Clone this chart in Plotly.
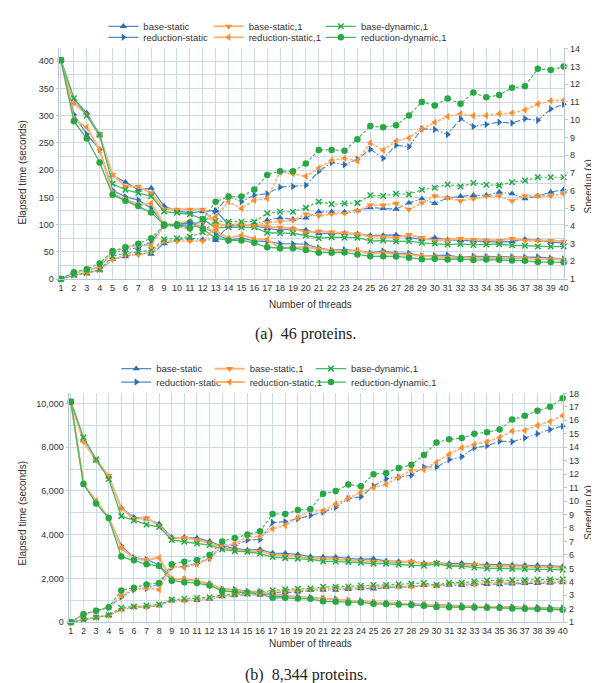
import plotly.graph_objects as go

threads = list(range(1, 41))

# ---------------- Panel (a): 46 proteins ----------------
a_bs_time = [402, 330, 305, 265, 190, 178, 164, 167, 134, 125, 122, 124, 126, 100, 99, 98, 93, 90, 92, 90,
             84, 84, 84, 83, 80, 80, 81, 76, 73, 76, 72, 71, 70, 70, 68, 69, 73, 71, 68, 66.5]
a_bs_speed = [1.0, 1.22, 1.32, 1.52, 2.12, 2.26, 2.45, 2.41, 3.0, 3.22, 3.3, 3.24, 3.19, 4.02, 4.06, 4.1, 4.32, 4.46, 4.37, 4.46,
              4.8, 4.8, 4.78, 4.86, 5.04, 4.99, 4.95, 5.3, 5.54, 5.27, 5.58, 5.67, 5.73, 5.73, 5.91, 5.82, 5.54, 5.69, 5.91, 6.04]
a_bs1_time = [402, 323, 302, 263, 192, 170, 170, 158, 128, 128, 128, 128, 102, 98, 98, 100, 96, 95, 93, 86,
              88, 86, 85, 83, 78, 78, 76, 81.5, 76, 70.6, 72, 74.3, 72.5, 71, 70.6, 74.3, 70.6, 70.6, 70.6, 69]
a_bs1_speed = [1.0, 1.24, 1.33, 1.53, 2.09, 2.36, 2.36, 2.54, 3.14, 3.14, 3.14, 3.14, 3.94, 4.1, 4.1, 4.02, 4.19, 4.23, 4.32, 4.67,
               4.56, 4.67, 4.71, 4.86, 5.17, 5.17, 5.27, 4.93, 5.3, 5.69, 5.58, 5.41, 5.54, 5.67, 5.69, 5.41, 5.69, 5.69, 5.69, 5.82]
a_bd_time = [402, 332, 300, 265, 175, 164, 158, 152, 124, 122, 119, 110, 94, 95, 95, 95, 85, 84, 84, 80,
             75, 77, 76, 76, 70, 70.7, 69, 69.5, 66.6, 65.3, 63.4, 64.5, 62.6, 63.6, 63.9, 62.1, 61.3, 59.6, 59.6, 59.6]
a_bd_speed = [1.0, 1.21, 1.34, 1.52, 2.3, 2.45, 2.54, 2.64, 3.24, 3.3, 3.38, 3.65, 4.28, 4.24, 4.24, 4.24, 4.71, 4.8, 4.8, 5.02,
              5.36, 5.23, 5.27, 5.3, 5.73, 5.69, 5.82, 5.78, 6.04, 6.16, 6.34, 6.23, 6.42, 6.32, 6.29, 6.47, 6.56, 6.75, 6.75, 6.75]
a_rs_time = [402, 302, 266, 238, 163, 151, 145, 130, 100, 98, 97, 96, 83, 71, 75, 70, 69, 65, 64.5, 64,
             57, 53, 54, 52, 48, 51.5, 47, 47.5, 42.4, 42.6, 44, 40, 41.8, 41.4, 40.8, 41, 40, 40.4, 38, 37]
a_rs_speed = [1.0, 1.33, 1.51, 1.69, 2.47, 2.66, 2.77, 3.09, 4.02, 4.1, 4.14, 4.19, 4.84, 5.66, 5.36, 5.74, 5.82, 6.19, 6.23, 6.29,
              7.08, 7.58, 7.45, 7.77, 8.33, 7.82, 8.55, 8.47, 9.49, 9.44, 9.16, 10.05, 9.62, 9.72, 9.86, 9.81, 10.05, 9.96, 10.6, 10.87]
a_rs1_time = [402, 293, 279, 237, 157, 146, 137, 139, 100, 101, 106, 94, 89, 75, 80.5, 74, 72.5, 57, 58, 59,
              55, 52, 51.4, 52.3, 46.2, 48.6, 45.7, 44.8, 42.4, 40.8, 39.5, 38.9, 39.3, 39.3, 38.9, 38.8, 38.1, 37, 36.3, 36.2]
a_rs1_speed = [1.0, 1.37, 1.44, 1.7, 2.56, 2.75, 2.93, 2.89, 4.02, 3.98, 3.79, 4.28, 4.52, 5.36, 4.99, 5.45, 5.55, 7.05, 6.95, 6.8,
               7.27, 7.71, 7.82, 7.68, 8.7, 8.27, 8.79, 8.97, 9.49, 9.85, 10.18, 10.33, 10.22, 10.24, 10.33, 10.37, 10.55, 10.88, 11.07, 11.1]
a_rd_time = [402, 290, 258, 214, 155, 144, 134, 122, 100, 100, 104, 92, 75, 71, 71, 66.5, 58.4, 56.7, 56.7, 53.5,
             48.5, 48.5, 48.7, 45.2, 41.7, 42, 41.5, 39.3, 36.5, 37.2, 35.9, 36.9, 34.9, 35.7, 35.3, 34.1, 33.8, 31.2, 31.4, 30.9]
a_rd_speed = [1.0, 1.39, 1.56, 1.88, 2.59, 2.79, 3.0, 3.3, 4.02, 4.02, 3.87, 4.37, 5.36, 5.66, 5.66, 6.05, 6.88, 7.09, 7.09, 7.52,
              8.29, 8.29, 8.25, 8.9, 9.64, 9.57, 9.68, 10.24, 11.0, 10.8, 11.2, 10.9, 11.53, 11.26, 11.39, 11.8, 11.89, 12.87, 12.81, 13.0]

# ---------------- Panel (b): 8,344 proteins ----------------
b_bs_time = [10080, 8300, 7380, 6650, 5230, 4800, 4720, 4500, 3880, 3880, 3850, 3700, 3480, 3380, 3300, 3330, 3160, 3150, 3100, 3000,
             2980, 2980, 2920, 2880, 2900, 2800, 2780, 2770, 2700, 2720, 2680, 2700, 2650, 2640, 2660, 2620, 2600, 2600, 2580, 2550]
b_bs_speed = [1.0, 1.21, 1.37, 1.52, 1.93, 2.1, 2.14, 2.24, 2.6, 2.6, 2.62, 2.72, 2.9, 2.98, 3.05, 3.03, 3.19, 3.2, 3.25, 3.36,
              3.38, 3.38, 3.45, 3.5, 3.48, 3.6, 3.63, 3.64, 3.73, 3.71, 3.76, 3.73, 3.8, 3.82, 3.79, 3.85, 3.88, 3.88, 3.91, 3.95]
b_bs1_time = [10080, 8250, 7420, 6700, 5200, 4720, 4770, 4420, 3820, 3870, 3770, 3620, 3420, 3300, 3250, 3250, 3080, 3050, 3000, 2920,
              2900, 2880, 2850, 2800, 2780, 2760, 2740, 2780, 2680, 2720, 2620, 2620, 2640, 2560, 2560, 2560, 2540, 2520, 2520, 2480]
b_bs1_speed = [1.0, 1.22, 1.36, 1.5, 1.94, 2.14, 2.11, 2.28, 2.64, 2.6, 2.67, 2.78, 2.95, 3.05, 3.1, 3.1, 3.27, 3.3, 3.36, 3.45,
               3.48, 3.5, 3.54, 3.6, 3.63, 3.65, 3.68, 3.63, 3.76, 3.71, 3.85, 3.85, 3.82, 3.94, 3.94, 3.94, 3.97, 4.0, 4.0, 4.06]
b_bd_time = [10080, 8450, 7450, 6550, 4850, 4650, 4470, 4350, 3760, 3680, 3600, 3530, 3330, 3250, 3220, 3140, 2980, 2930, 2900, 2880,
             2780, 2780, 2760, 2720, 2680, 2680, 2640, 2620, 2580, 2680, 2560, 2560, 2500, 2460, 2460, 2440, 2440, 2420, 2420, 2400]
b_bd_speed = [1.0, 1.19, 1.35, 1.54, 2.08, 2.17, 2.25, 2.32, 2.68, 2.74, 2.8, 2.86, 3.03, 3.1, 3.13, 3.21, 3.38, 3.44, 3.48, 3.5,
              3.63, 3.63, 3.65, 3.71, 3.76, 3.76, 3.82, 3.85, 3.91, 3.76, 3.94, 3.94, 4.03, 4.1, 4.1, 4.13, 4.13, 4.17, 4.17, 4.2]
b_rs_time = [10080, 6350, 5480, 4780, 3500, 2950, 2870, 2620, 1980, 1950, 1880, 1750, 1520, 1500, 1420, 1410, 1200, 1190, 1160, 1130,
             1100, 1057, 989, 977, 906, 865, 856, 846, 804, 804, 772, 758, 722, 715, 698, 700, 687, 672, 658, 648]
b_rs_speed = [1.0, 1.59, 1.84, 2.11, 2.88, 3.42, 3.51, 3.85, 5.09, 5.17, 5.36, 5.76, 6.63, 6.72, 7.1, 7.15, 8.4, 8.47, 8.69, 8.92,
              9.17, 9.54, 10.19, 10.32, 11.12, 11.65, 11.77, 11.92, 12.53, 12.53, 13.06, 13.3, 13.96, 14.1, 14.45, 14.4, 14.68, 15.0, 15.32, 15.56]
b_rs1_time = [10080, 6330, 5550, 4760, 3400, 2900, 2850, 2950, 1960, 1990, 1900, 1760, 1500, 1480, 1370, 1370, 1270, 1230, 1150, 1085,
              1085, 1031, 989, 944, 916, 897, 856, 821, 818, 782, 748, 722, 709, 700, 685, 663, 661, 645, 634, 617]
b_rs1_speed = [1.0, 1.59, 1.82, 2.12, 2.96, 3.48, 3.54, 3.42, 5.14, 5.07, 5.31, 5.73, 6.72, 6.81, 7.36, 7.36, 7.94, 8.2, 8.77, 9.29,
               9.29, 9.78, 10.19, 10.68, 11.0, 11.24, 11.77, 12.28, 12.33, 12.89, 13.48, 13.96, 14.21, 14.4, 14.72, 15.2, 15.25, 15.62, 15.91, 16.35]
b_rd_time = [10080, 6320, 5430, 4760, 3000, 2830, 2650, 2570, 1900, 1830, 1790, 1680, 1440, 1390, 1340, 1300, 1115, 1115, 1080, 1071,
             955, 938, 897, 908, 840, 834, 810, 794, 751, 702, 691, 687, 672, 667, 658, 628, 617, 603, 593, 572]
b_rd_speed = [1.0, 1.6, 1.86, 2.12, 3.36, 3.56, 3.8, 3.92, 5.31, 5.5, 5.63, 6.0, 7.0, 7.26, 7.52, 7.75, 9.04, 9.04, 9.33, 9.41,
              10.55, 10.74, 11.23, 11.1, 12.0, 12.08, 12.45, 12.69, 13.42, 14.35, 14.59, 14.68, 15.0, 15.12, 15.32, 16.05, 16.34, 16.71, 17.0, 17.63]

series_names = ["base-static", "base-static,1", "base-dynamic,1",
                "reduction-static", "reduction-static,1", "reduction-dynamic,1"]

panel_a = {
    "base-static": (a_bs_time, a_bs_speed),
    "base-static,1": (a_bs1_time, a_bs1_speed),
    "base-dynamic,1": (a_bd_time, a_bd_speed),
    "reduction-static": (a_rs_time, a_rs_speed),
    "reduction-static,1": (a_rs1_time, a_rs1_speed),
    "reduction-dynamic,1": (a_rd_time, a_rd_speed),
}
panel_b = {
    "base-static": (b_bs_time, b_bs_speed),
    "base-static,1": (b_bs1_time, b_bs1_speed),
    "base-dynamic,1": (b_bd_time, b_bd_speed),
    "reduction-static": (b_rs_time, b_rs_speed),
    "reduction-static,1": (b_rs1_time, b_rs1_speed),
    "reduction-dynamic,1": (b_rd_time, b_rd_speed),
}

BLUE_M, BLUE_L = "#2d6db3", "#4f8ccc"
ORANGE_M, ORANGE_L = "#ff8c26", "#ffb47a"
GREEN_M, GREEN_L = "#27a844", "#45b862"

style = {
    "base-static": dict(sym="triangle-up", mc=BLUE_M, lc=BLUE_L, lw=1.3, dash="6px,2px,1.5px,2px", ms=6.5),
    "base-static,1": dict(sym="triangle-down", mc=ORANGE_M, lc=ORANGE_L, lw=2.0, dash="3px,1.5px", ms=6.5),
    "base-dynamic,1": dict(sym="x-thin", mc=GREEN_M, lc=GREEN_L, lw=1.3, dash="3px,2px", ms=5.5),
    "reduction-static": dict(sym="triangle-right", mc=BLUE_M, lc=BLUE_L, lw=1.3, dash="6px,2px,1.5px,2px", ms=6.5),
    "reduction-static,1": dict(sym="triangle-left", mc=ORANGE_M, lc=ORANGE_L, lw=2.0, dash="3px,1.5px", ms=6.5),
    "reduction-dynamic,1": dict(sym="circle", mc=GREEN_M, lc=GREEN_L, lw=1.3, dash="3px,2px", ms=6.5),
}

W, H = 599, 683
FONT = "Liberation Sans, Arial, sans-serif"
SERIF = "Liberation Serif, Times New Roman, serif"
GRID = "#cbd9e6"
TXT = "#333333"

fig = go.Figure()


def marker_for(s):
    st = style[s]
    if st["sym"] == "x-thin":
        return dict(symbol="x-thin", size=st["ms"], color=st["mc"], line=dict(color=st["mc"], width=1.5))
    return dict(symbol=st["sym"], size=st["ms"], color=st["mc"], line=dict(width=0))


def add_panel(data, xa, ya_l, ya_r, legend_ids):
    for s in series_names:
        st = style[s]
        t, sp = data[s]
        # speedup (right axis), dashed
        fig.add_trace(go.Scatter(
            x=threads, y=sp, xaxis=xa, yaxis=ya_r, mode="lines+markers", name=s,
            line=dict(color=st["lc"], width=st["lw"] * 0.9, dash=st["dash"]),
            marker=marker_for(s), showlegend=False, cliponaxis=False, hoverinfo="skip"))
    for i, s in enumerate(series_names):
        st = style[s]
        t, sp = data[s]
        # elapsed time (left axis), solid
        fig.add_trace(go.Scatter(
            x=threads, y=t, xaxis=xa, yaxis=ya_l, mode="lines+markers", name=s,
            line=dict(color=st["lc"], width=st["lw"]),
            marker=marker_for(s), showlegend=True, legend=legend_ids[i],
            cliponaxis=False))


ids_a = ["legend", "legend2", "legend3", "legend4", "legend5", "legend6"]
ids_b = ["legend7", "legend8", "legend9", "legend10", "legend11", "legend12"]
add_panel(panel_a, "x", "y", "y2", ids_a)
add_panel(panel_b, "x2", "y3", "y4", ids_b)


def px_x(px):
    return px / W


def px_y(py):
    return 1 - py / H


# Legend placement (pixel positions of text start, row centre)
legend_layout = {}
cols_a = [136, 242, 355]
rows_a = [13.3, 24.5]
cols_b = [149, 243, 345]
rows_b = [360.7, 374.3]
for ids, cols, rows in ((ids_a, cols_a, rows_a), (ids_b, cols_b, rows_b)):
    for i, lid in enumerate(ids):
        c = cols[i % 3]
        r = rows[i // 3]
        legend_layout[lid] = dict(
            x=px_x(c - 40), y=px_y(r - 14.5), xanchor="left", yanchor="top",
            bgcolor="rgba(0,0,0,0)", borderwidth=0, itemwidth=30,
            font=dict(family=FONT, size=9.5, color=TXT), itemclick=False, itemdoubleclick=False)

axis_common = dict(showgrid=True, gridcolor=GRID, gridwidth=1, zeroline=False,
                   tickfont=dict(family=FONT, size=9, color=TXT), showline=True, linecolor="#b9c7d4", linewidth=1)

layout = dict(
    width=W, height=H, margin=dict(l=0, r=0, t=0, b=0),
    paper_bgcolor="white", plot_bgcolor="white",
    font=dict(family=FONT, size=9.5, color=TXT),
    showlegend=True,
    xaxis=dict(domain=[px_x(51), px_x(560)], anchor="y", range=[0.82, 40.05],
               tickmode="linear", tick0=1, dtick=1, ticks="", **axis_common),
    yaxis=dict(domain=[px_y(270), px_y(36)], anchor="x", range=[0, 423.5],
               tickmode="linear", tick0=0, dtick=50, ticks="outside", ticklen=2, tickcolor="#b9c7d4",
               minor=dict(dtick=25, showgrid=True, gridcolor=GRID, gridwidth=1), **axis_common),
    yaxis2=dict(overlaying="y", side="right", anchor="x", range=[1, 14.02],
                tickmode="linear", tick0=1, dtick=1, ticks="outside", ticklen=3, tickcolor="#b9c7d4",
                showgrid=False, zeroline=False, showline=True, linecolor="#b9c7d4",
                tickfont=dict(family=FONT, size=9, color=TXT)),
    xaxis2=dict(domain=[px_x(61), px_x(559)], anchor="y3", range=[0.82, 40.05],
                tickmode="linear", tick0=1, dtick=1, ticks="", **axis_common),
    yaxis3=dict(domain=[px_y(618.3), px_y(386)], anchor="x2", range=[0, 10463],
                tickmode="linear", tick0=0, dtick=2000, tickformat=",d", ticks="outside", ticklen=2,
                tickcolor="#b9c7d4",
                minor=dict(dtick=1000, showgrid=True, gridcolor=GRID, gridwidth=1), **axis_common),
    yaxis4=dict(overlaying="y3", side="right", anchor="x2", range=[1, 18.0],
                tickmode="linear", tick0=1, dtick=1, ticks="outside", ticklen=3, tickcolor="#b9c7d4",
                showgrid=False, zeroline=False, showline=True, linecolor="#b9c7d4",
                tickfont=dict(family=FONT, size=9, color=TXT)),
)
layout.update(legend_layout)

annotations = []


def ann(text, x, y, size, angle=0, family=FONT, color=TXT):
    annotations.append(dict(text=text, x=px_x(x), y=px_y(y), xref="paper", yref="paper",
                            xanchor="center", yanchor="middle", showarrow=False, textangle=angle,
                            font=dict(family=family, size=size, color=color)))


ann("Elapsed time (seconds)", 15, 161, 10, -90)
ann("Speedup (x)", 584, 176, 10, -90)
ann("Number of threads", 305, 296, 10)
ann("(a)  46 proteins.", 300, 326, 16, family=SERIF, color="#222222")

ann("Elapsed time (seconds)", 15, 507, 10, -90)
ann("Speedup (x)", 584, 507, 10, -90)
ann("Number of threads", 305, 640, 10)
ann("(b)  8,344 proteins.", 300, 672, 16, family=SERIF, color="#222222")

layout["annotations"] = annotations
fig.update_layout(**layout)

fig.write_html("out.html")
